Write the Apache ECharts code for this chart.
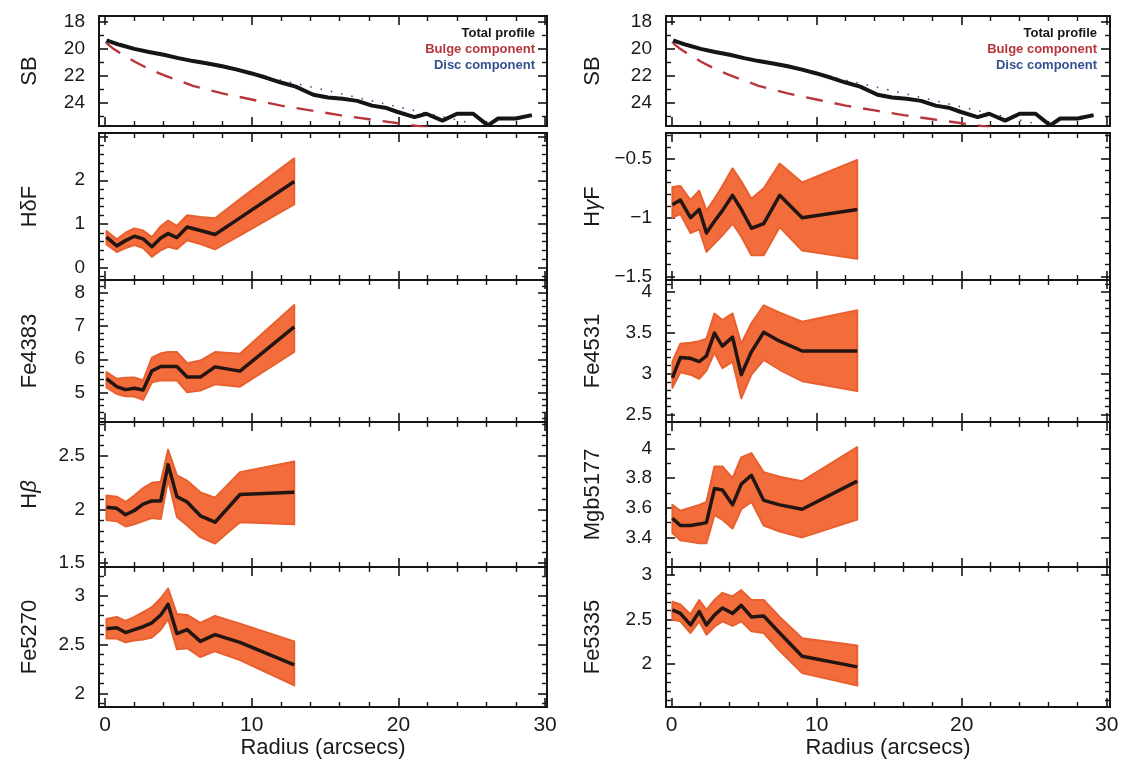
<!DOCTYPE html>
<html>
<head>
<meta charset="utf-8">
<script src="https://cdn.jsdelivr.net/npm/echarts@6/dist/echarts.min.js"></script>
<style>
  html, body { margin: 0; padding: 0; background: #ffffff; }
  #chart { width: 1124px; height: 768px; }
</style>
</head>
<body>
<div id="chart"></div>
<script>
// ---------------- DATA ----------------
// Surface-brightness panels (shared by both columns)
const SB_R      = [0.1, 1, 2, 3, 4, 5, 6, 7, 8, 9, 10, 11, 12, 13, 14.2, 15.2, 16.2, 17.2, 18.2, 19.1, 19.9, 21.1, 21.9, 23.0, 24.0, 25.1, 26.1, 26.8, 28.0, 29.1];
const SB_TOTAL  = [19.4, 19.72, 20.02, 20.25, 20.45, 20.7, 20.92, 21.1, 21.3, 21.55, 21.83, 22.15, 22.5, 22.8, 23.4, 23.6, 23.7, 23.85, 24.2, 24.35, 24.65, 25.05, 24.8, 25.3, 24.8, 24.8, 25.65, 25.15, 25.15, 24.9];
const BULGE_R   = [0.1, 0.5, 1, 2, 3, 4, 5, 6, 8, 10, 12, 14, 16, 18, 20, 22];
const BULGE     = [19.6, 19.95, 20.3, 20.95, 21.5, 21.95, 22.35, 22.75, 23.3, 23.75, 24.2, 24.55, 24.9, 25.2, 25.5, 25.8];
const DISC_R    = [0, 5, 10, 15, 20, 25];
const DISC      = [19.55, 20.7, 21.85, 23.05, 24.3, 25.5];
const SB_TICKS  = [18, 20, 22, 24];

// Radial bins
const R_LEFT  = [0.1, 0.8, 1.4, 2.0, 2.6, 3.2, 3.8, 4.3, 4.9, 5.6, 6.5, 7.5, 9.2, 12.9];
const R_RIGHT = [0.05, 0.6, 1.3, 1.9, 2.4, 2.95, 3.5, 4.2, 4.8, 5.5, 6.35, 7.45, 9.0, 12.8];

// Left column indices (value, lower, upper)
const HDF_MID = [0.70, 0.50, 0.62, 0.72, 0.66, 0.48, 0.68, 0.78, 0.69, 0.93, 0.85, 0.76, 1.14, 1.97];
const HDF_LO  = [0.53, 0.36, 0.45, 0.52, 0.45, 0.25, 0.40, 0.48, 0.43, 0.63, 0.54, 0.42, 0.74, 1.45];
const HDF_HI  = [0.84, 0.65, 0.80, 0.90, 0.85, 0.70, 0.95, 1.08, 0.96, 1.20, 1.16, 1.13, 1.57, 2.50];

const FE4383_MID = [5.41, 5.17, 5.08, 5.12, 5.07, 5.65, 5.78, 5.78, 5.78, 5.46, 5.46, 5.77, 5.64, 6.98];
const FE4383_LO  = [5.15, 4.95, 4.88, 4.87, 4.77, 5.30, 5.36, 5.36, 5.36, 5.00, 5.05, 5.24, 5.17, 6.22];
const FE4383_HI  = [5.61, 5.41, 5.44, 5.45, 5.36, 6.05, 6.18, 6.22, 6.22, 5.88, 5.96, 6.22, 6.17, 7.64];

const HB_MID = [2.02, 2.01, 1.95, 1.99, 2.05, 2.08, 2.08, 2.42, 2.12, 2.07, 1.94, 1.88, 2.14, 2.16];
const HB_LO  = [1.90, 1.89, 1.84, 1.86, 1.89, 1.92, 1.91, 2.28, 1.93, 1.85, 1.74, 1.68, 1.88, 1.86];
const HB_HI  = [2.13, 2.12, 2.07, 2.13, 2.20, 2.25, 2.26, 2.56, 2.32, 2.27, 2.16, 2.11, 2.35, 2.45];

const FE5270_MID = [2.66, 2.67, 2.62, 2.65, 2.68, 2.72, 2.80, 2.91, 2.61, 2.65, 2.53, 2.60, 2.52, 2.29];
const FE5270_LO  = [2.56, 2.56, 2.52, 2.54, 2.55, 2.57, 2.65, 2.76, 2.45, 2.46, 2.37, 2.43, 2.34, 2.08];
const FE5270_HI  = [2.76, 2.78, 2.74, 2.78, 2.83, 2.88, 2.97, 3.07, 2.81, 2.80, 2.72, 2.79, 2.71, 2.53];

// Right column indices
const HGF_MID = [-0.89, -0.85, -1.00, -0.93, -1.13, -1.03, -0.94, -0.81, -0.93, -1.09, -1.05, -0.81, -1.00, -0.93];
const HGF_LO  = [-1.00, -0.97, -1.13, -1.10, -1.29, -1.22, -1.15, -1.05, -1.16, -1.32, -1.32, -1.08, -1.28, -1.35];
const HGF_HI  = [-0.74, -0.73, -0.85, -0.77, -0.94, -0.84, -0.73, -0.58, -0.69, -0.84, -0.75, -0.54, -0.70, -0.51];

const FE4531_MID = [2.95, 3.20, 3.19, 3.15, 3.22, 3.50, 3.34, 3.45, 2.99, 3.27, 3.51, 3.40, 3.28, 3.28];
const FE4531_LO  = [2.83, 3.02, 2.99, 2.94, 3.04, 3.26, 3.07, 3.15, 2.70, 2.99, 3.17, 3.05, 2.91, 2.79];
const FE4531_HI  = [3.15, 3.37, 3.38, 3.40, 3.43, 3.74, 3.66, 3.74, 3.37, 3.62, 3.84, 3.75, 3.64, 3.78];

const MGB_MID = [3.53, 3.48, 3.48, 3.49, 3.50, 3.73, 3.72, 3.62, 3.76, 3.82, 3.65, 3.62, 3.59, 3.78];
const MGB_LO  = [3.43, 3.38, 3.37, 3.36, 3.36, 3.55, 3.52, 3.46, 3.59, 3.64, 3.48, 3.44, 3.40, 3.52];
const MGB_HI  = [3.62, 3.58, 3.60, 3.62, 3.64, 3.88, 3.88, 3.80, 3.94, 3.97, 3.84, 3.81, 3.78, 4.01];

const FE5335_MID = [2.61, 2.57, 2.44, 2.59, 2.44, 2.55, 2.63, 2.57, 2.66, 2.53, 2.54, 2.35, 2.09, 1.97];
const FE5335_LO  = [2.50, 2.48, 2.35, 2.48, 2.33, 2.42, 2.48, 2.43, 2.48, 2.37, 2.35, 2.15, 1.90, 1.76];
const FE5335_HI  = [2.70, 2.67, 2.56, 2.72, 2.61, 2.72, 2.80, 2.76, 2.83, 2.72, 2.72, 2.53, 2.29, 2.21];

// Tick labels
const X_LABELS = [0, 10, 20, 30];
const HDF_TICKS = [0, 1, 2];
const FE4383_TICKS = [5, 6, 7, 8];
const HB_TICKS = [1.5, 2, 2.5];
const FE5270_TICKS = [2, 2.5, 3];
const HGF_TICKS = [-1.5, -1, -0.5];
const FE4531_TICKS = [2.5, 3, 3.5, 4];
const MGB_TICKS = [3.4, 3.6, 3.8, 4];
const FE5335_TICKS = [2, 2.5, 3];

// ---------------- LAYOUT ----------------
const FONT = '"Liberation Sans", Arial, sans-serif';
const COLS = [
  { left: 99,  width: 448, xmin: -0.41, xmax: 30.13, nameGap: 58, legendRight: 589 },
  { left: 666, width: 444, xmin: -0.39, xmax: 30.23, nameGap: 62, legendRight: 27 }
];
const ROWS = [
  { top: 16,  bottom: 126 },
  { top: 133, bottom: 280 },
  { top: 280, bottom: 422 },
  { top: 422, bottom: 567 },
  { top: 567, bottom: 707 }
];

function range(a, b, s) {
  const out = [];
  const n = Math.round((b - a) / s);
  for (let i = 0; i <= n; i++) out.push(+(a + i * s).toFixed(4));
  return out;
}
function without(arr, ex) {
  return arr.filter(v => !ex.some(e => Math.abs(e - v) < 1e-6));
}
const X_MAJOR = [0, 10, 20, 30];
const X_MINOR = without(range(0, 30, 2), X_MAJOR);

// panels: [col][row]
const PANELS = [
  [
    { name: 'SB', sb: true, min: 17.6, max: 25.7, major: [18, 20, 22, 24], minor: [19, 21, 23, 25], labels: SB_TICKS },
    { name: '{n|H}{n|δ}{n|F}', min: -0.28, max: 3.08, major: [0, 1, 2, 3], minor: without(range(-0.2, 3.0, 0.2), [0, 1, 2, 3]), labels: HDF_TICKS, R: R_LEFT, mid: HDF_MID, lo: HDF_LO, hi: HDF_HI },
    { name: 'Fe4383', min: 4.1, max: 8.4, major: [5, 6, 7, 8], minor: without(range(4.2, 8.4, 0.2), [5, 6, 7, 8]), labels: FE4383_TICKS, R: R_LEFT, mid: FE4383_MID, lo: FE4383_LO, hi: FE4383_HI },
    { name: '{n|H}{g|β}', min: 1.46, max: 2.82, major: [1.5, 2, 2.5], minor: without(range(1.5, 2.8, 0.1), [1.5, 2, 2.5]), labels: HB_TICKS, R: R_LEFT, mid: HB_MID, lo: HB_LO, hi: HB_HI },
    { name: 'Fe5270', min: 1.86, max: 3.29, major: [2, 2.5, 3], minor: without(range(1.9, 3.2, 0.1), [2, 2.5, 3]), labels: FE5270_TICKS, R: R_LEFT, mid: FE5270_MID, lo: FE5270_LO, hi: FE5270_HI }
  ],
  [
    { name: 'SB', sb: true, min: 17.6, max: 25.7, major: [18, 20, 22, 24], minor: [19, 21, 23, 25], labels: SB_TICKS },
    { name: '{n|H}{g|γ}{n|F}', min: -1.53, max: -0.28, major: [-1.5, -1, -0.5], minor: without(range(-1.5, -0.3, 0.1), [-1.5, -1, -0.5]), labels: HGF_TICKS, R: R_RIGHT, mid: HGF_MID, lo: HGF_LO, hi: HGF_HI },
    { name: 'Fe4531', min: 2.41, max: 4.15, major: [2.5, 3, 3.5, 4], minor: without(range(2.5, 4.1, 0.1), [2.5, 3, 3.5, 4]), labels: FE4531_TICKS, R: R_RIGHT, mid: FE4531_MID, lo: FE4531_LO, hi: FE4531_HI },
    { name: 'Mgb5177', min: 3.2, max: 4.18, major: [3.2, 3.4, 3.6, 3.8, 4.0], minor: range(3.3, 4.1, 0.2), labels: MGB_TICKS, R: R_RIGHT, mid: MGB_MID, lo: MGB_LO, hi: MGB_HI },
    { name: 'Fe5335', min: 1.52, max: 3.09, major: [2, 2.5, 3], minor: without(range(1.6, 3.0, 0.1), [2, 2.5, 3]), labels: FE5335_TICKS, R: R_RIGHT, mid: FE5335_MID, lo: FE5335_LO, hi: FE5335_HI }
  ]
];

const AXIS_COLOR = '#151515';
const grids = [], xAxes = [], yAxes = [], series = [], graphics = [];

function fmt(v) {
  return String(+v.toFixed(2)).replace('-', '\u2212');
}

PANELS.forEach((col, ci) => {
  const C = COLS[ci];
  col.forEach((p, ri) => {
    const R = ROWS[ri];
    const gi = grids.length;
    grids.push({
      left: C.left, width: C.width, top: R.top, height: R.bottom - R.top,
      show: true, borderColor: AXIS_COLOR, borderWidth: 2, backgroundColor: 'transparent'
    });
    const bottomRow = ri === ROWS.length - 1;
    const xBase = {
      type: 'value', gridIndex: gi, min: C.xmin, max: C.xmax,
      axisLine: { show: false, onZero: false }, splitLine: { show: false }
    };
    const xi = xAxes.length;
    xAxes.push(Object.assign({}, xBase, {
      position: 'bottom',
      axisTick: { show: true, inside: true, length: 9, customValues: X_MAJOR, lineStyle: { color: AXIS_COLOR, width: 1.6 } },
      axisLabel: { show: bottomRow, customValues: X_LABELS, color: '#1a1a1a', fontFamily: FONT, fontSize: 21, margin: 8 },
      name: bottomRow ? 'Radius (arcsecs)' : '', nameLocation: 'middle', nameGap: 28,
      nameTextStyle: { color: '#1a1a1a', fontFamily: FONT, fontSize: 22 }
    }));
    xAxes.push(Object.assign({}, xBase, { position: 'bottom', axisTick: { show: true, inside: true, length: 5, customValues: X_MINOR, lineStyle: { color: AXIS_COLOR, width: 1.4 } }, axisLabel: { show: false } }));
    xAxes.push(Object.assign({}, xBase, { position: 'top', axisTick: { show: true, inside: true, length: 9, customValues: X_MAJOR, lineStyle: { color: AXIS_COLOR, width: 1.6 } }, axisLabel: { show: false } }));
    xAxes.push(Object.assign({}, xBase, { position: 'top', axisTick: { show: true, inside: true, length: 5, customValues: X_MINOR, lineStyle: { color: AXIS_COLOR, width: 1.4 } }, axisLabel: { show: false } }));

    const yBase = {
      type: 'value', gridIndex: gi, min: p.min, max: p.max, inverse: !!p.sb,
      axisLine: { show: false, onZero: false }, splitLine: { show: false }
    };
    const yi = yAxes.length;
    yAxes.push(Object.assign({}, yBase, {
      position: 'left',
      axisTick: { show: true, inside: true, length: 9, customValues: p.major, lineStyle: { color: AXIS_COLOR, width: 1.6 } },
      axisLabel: { show: true, customValues: p.labels, formatter: fmt, color: '#1a1a1a', fontFamily: FONT, fontSize: 19, margin: 14 },
      name: p.name, nameLocation: 'middle', nameRotate: 90, nameGap: C.nameGap,
      nameTextStyle: {
        color: '#1a1a1a', fontFamily: FONT, fontSize: 22,
        rich: {
          n: { fontFamily: FONT, fontSize: 22, color: '#1a1a1a' },
          g: { fontFamily: FONT, fontSize: 22, fontStyle: 'italic', color: '#1a1a1a' }
        }
      }
    }));
    yAxes.push(Object.assign({}, yBase, { position: 'left', axisTick: { show: true, inside: true, length: 5, customValues: p.minor, lineStyle: { color: AXIS_COLOR, width: 1.4 } }, axisLabel: { show: false } }));
    yAxes.push(Object.assign({}, yBase, { position: 'right', axisTick: { show: true, inside: true, length: 9, customValues: p.major, lineStyle: { color: AXIS_COLOR, width: 1.6 } }, axisLabel: { show: false } }));
    yAxes.push(Object.assign({}, yBase, { position: 'right', axisTick: { show: true, inside: true, length: 5, customValues: p.minor, lineStyle: { color: AXIS_COLOR, width: 1.4 } }, axisLabel: { show: false } }));

    if (p.sb) {
      series.push({
        type: 'line', xAxisIndex: xi, yAxisIndex: yi, symbol: 'none', z: 3, clip: true,
        data: DISC_R.map((r, i) => [r, DISC[i]]),
        lineStyle: { color: '#34508f', width: 1.6, type: [1.5, 9] }
      });
      series.push({
        type: 'line', xAxisIndex: xi, yAxisIndex: yi, symbol: 'none', z: 2, clip: true,
        data: BULGE_R.map((r, i) => [r, BULGE[i]]),
        lineStyle: { color: '#b8353c', width: 2.4, type: [17, 12] }
      });
      series.push({
        type: 'line', xAxisIndex: xi, yAxisIndex: yi, symbol: 'none', z: 4, clip: true,
        data: SB_R.map((r, i) => [r, SB_TOTAL[i]]),
        lineStyle: { color: '#151515', width: 4 }
      });
      const lr = C.legendRight;
      graphics.push({ type: 'text', right: lr, top: 27, style: { text: 'Total profile', fill: '#151515', font: 'bold 13px ' + FONT } });
      graphics.push({ type: 'text', right: lr, top: 43, style: { text: 'Bulge component', fill: '#b5363d', font: 'bold 13px ' + FONT } });
      graphics.push({ type: 'text', right: lr, top: 59, style: { text: 'Disc component', fill: '#34508f', font: 'bold 13px ' + FONT } });
    } else {
      const Rr = p.R, lo = p.lo, hi = p.hi;
      series.push({
        type: 'custom', coordinateSystem: 'cartesian2d', xAxisIndex: xi, yAxisIndex: yi, z: 2,
        data: Rr.map((r, i) => [r, lo[i], hi[i]]),
        encode: { x: 0, y: [1, 2] },
        renderItem: function (params, api) {
          if (params.dataIndex !== 0) return null;
          const pts = [];
          for (let i = 0; i < Rr.length; i++) pts.push(api.coord([Rr[i], lo[i]]));
          for (let i = Rr.length - 1; i >= 0; i--) pts.push(api.coord([Rr[i], hi[i]]));
          return {
            type: 'polygon',
            shape: { points: pts },
            style: { fill: '#f36c3b', stroke: '#e8602f', lineWidth: 2, lineJoin: 'round' }
          };
        }
      });
      series.push({
        type: 'line', xAxisIndex: xi, yAxisIndex: yi, symbol: 'none', z: 4,
        data: Rr.map((r, i) => [r, p.mid[i]]),
        lineStyle: { color: '#231612', width: 3.5, join: 'round' }
      });
    }
  });
});

const chart = echarts.init(document.getElementById('chart'), null, { renderer: 'canvas' });
chart.setOption({
  backgroundColor: '#ffffff',
  animation: false,
  grid: grids,
  xAxis: xAxes,
  yAxis: yAxes,
  series: series,
  graphic: graphics
});
</script>
</body>
</html>
